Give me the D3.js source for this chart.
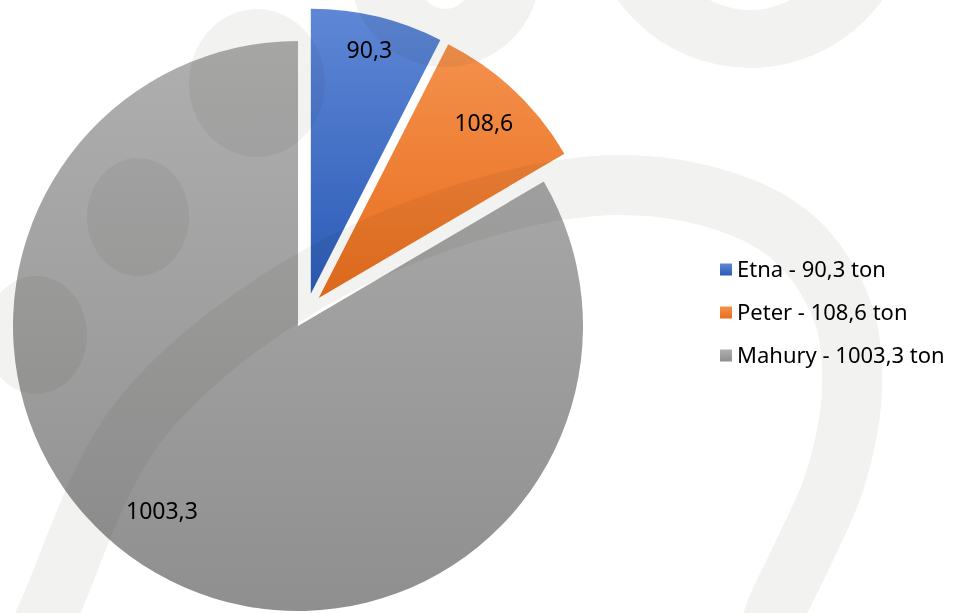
<!DOCTYPE html>
<meta charset="utf-8">
<style>
body { margin: 0; background: #fff; }
text { font-family: "Noto Sans", sans-serif; fill: #000; }
.watermark { mix-blend-mode: multiply; }
</style>
<svg width="966" height="613"></svg>
<script src="https://cdnjs.cloudflare.com/ajax/libs/d3/7.8.5/d3.min.js"></script>
<script>

var names = ["Etna", "Peter", "Mahury"],
    values = [90.3, 108.6, 1003.3],
    valueLabels = ["90,3", "108,6", "1003,3"],
    unit = "ton";

var topColors = ["#5f87d6", "#f4914d", "#afafaf"],
    bottomColors = ["#2b5bb6", "#e86d1c", "#8f8f8f"];

var svg = d3.select("svg"),
    width = +svg.attr("width"),
    height = +svg.attr("height");

var cx = 306.7, cy = 310.8,
    radius = 285,
    explode = 17.5;

svg.append("rect").attr("width", width).attr("height", height).attr("fill", "#fff");

var defs = svg.append("defs");
names.forEach(function(n, i) {
  var g = defs.append("linearGradient")
      .attr("id", "grad" + i)
      .attr("x1", 0).attr("y1", 0).attr("x2", 0).attr("y2", 1);
  g.append("stop").attr("offset", "0%").attr("stop-color", topColors[i]);
  g.append("stop").attr("offset", "100%").attr("stop-color", bottomColors[i]);
});

var arcs = d3.pie().sort(null).value(function(d) { return d; })(values);
var arc = d3.arc().innerRadius(0).outerRadius(radius);

function offset(d) {
  var a = (d.startAngle + d.endAngle) / 2;
  return [cx + explode * Math.sin(a), cy - explode * Math.cos(a)];
}

var slices = svg.append("g").selectAll("g")
    .data(arcs)
  .enter().append("g")
    .attr("transform", function(d) { var o = offset(d); return "translate(" + o[0] + "," + o[1] + ")"; });

slices.append("path")
    .attr("d", arc)
    .attr("fill", function(d, i) { return "url(#grad" + i + ")"; });

// light watermark shapes of the slide background, multiplied over the pie
var wm = svg.append("g").attr("class", "watermark").attr("fill", "#f2f3f1");

function ring(x, y, r, ix, iy, ir) {
  var p = d3.path();
  p.moveTo(x + r, y); p.arc(x, y, r, 0, 2 * Math.PI);
  p.moveTo(ix + ir, iy); p.arc(ix, iy, ir, 0, 2 * Math.PI);
  return p.toString();
}
wm.append("path").attr("fill-rule", "evenodd").attr("d", ring(750, -95, 163, 750, -75, 85));
wm.append("path").attr("fill-rule", "evenodd").attr("d", ring(445, -28, 95, 445, -15, 24));
wm.append("ellipse").attr("cx", 257).attr("cy", 83).attr("rx", 68).attr("ry", 74);
wm.append("ellipse").attr("cx", 138).attr("cy", 217).attr("rx", 51).attr("ry", 59);
wm.append("ellipse").attr("cx", 36).attr("cy", 335).attr("rx", 51).attr("ry", 59);

var band = [[14, 690], [48, 613], [140, 420], [329, 270], [560, 190], [690, 192],
            [790, 235], [842, 310], [852, 390], [835, 480], [800, 560], [775, 613], [755, 690]];
wm.append("path")
    .attr("fill", "none")
    .attr("stroke", "#f2f3f1")
    .attr("stroke-width", 60)
    .attr("d", d3.line().curve(d3.curveCatmullRom)(band));

// data labels, inside end
var labelFrac = [0.88, 0.845, 0.805],
    labelShift = [0, 0, 0.115];

slices.append("text")
    .attr("text-anchor", "middle")
    .attr("dy", "0.35em")
    .style("font-size", "23px")
    .attr("x", function(d, i) { return Math.sin((d.startAngle + d.endAngle) / 2 + labelShift[i]) * radius * labelFrac[i]; })
    .attr("y", function(d, i) { return -Math.cos((d.startAngle + d.endAngle) / 2 + labelShift[i]) * radius * labelFrac[i]; })
    .text(function(d, i) { return valueLabels[i]; });

// legend
var legend = svg.append("g").attr("transform", "translate(720,269.5)");
var item = legend.selectAll("g")
    .data(names)
  .enter().append("g")
    .attr("transform", function(d, i) { return "translate(0," + i * 43 + ")"; });

item.append("rect")
    .attr("y", -6).attr("width", 12).attr("height", 12)
    .attr("fill", function(d, i) { return "url(#grad" + i + ")"; });

item.append("text")
    .attr("x", 17)
    .attr("dy", "0.35em")
    .style("font-size", "22px")
    .text(function(d, i) { return d + " - " + valueLabels[i] + " " + unit; });

</script>
